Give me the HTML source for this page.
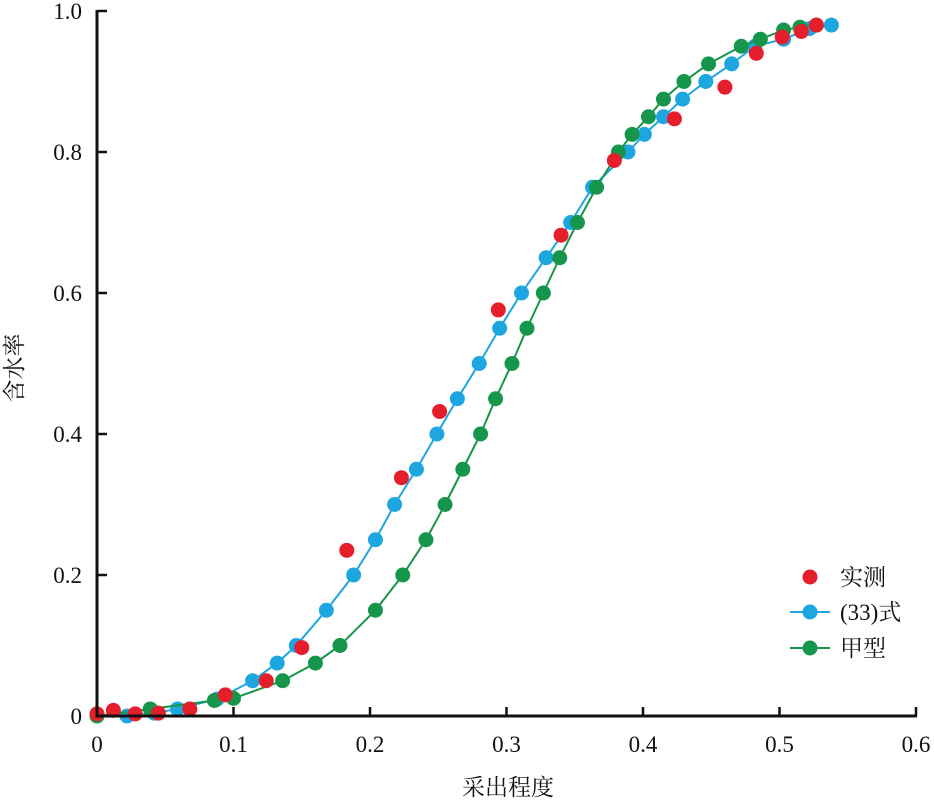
<!DOCTYPE html>
<html><head><meta charset="utf-8"><style>
body{margin:0;background:#fff}
svg text{font-family:"Liberation Serif","Noto Serif CJK SC",serif;font-size:23px;fill:#111}
</style></head><body>
<svg width="934" height="805" id="c"></svg>
<script>
const xTicks=[0,0.1,0.2,0.3,0.4,0.5,0.6];
const xTickLabels=["0","0.1","0.2","0.3","0.4","0.5","0.6"];
const yTicks=[0,0.2,0.4,0.6,0.8,1.0];
const yTickLabels=["0","0.2","0.4","0.6","0.8","1.0"];
const measX=[0,0.012,0.028,0.045,0.068,0.094,0.124,0.15,0.183,0.223,0.251,0.294,0.34,0.379,0.423,0.46,0.483,0.502,0.516,0.527];
const measY=[0.003,0.008,0.003,0.004,0.01,0.03,0.05,0.097,0.235,0.338,0.432,0.576,0.682,0.788,0.847,0.892,0.94,0.963,0.971,0.98];
const eq33X=[0,0.022,0.042,0.059,0.088,0.114,0.132,0.146,0.168,0.188,0.204,0.218,0.234,0.249,0.264,0.28,0.295,0.311,0.329,0.347,0.363,0.389,0.401,0.415,0.429,0.446,0.465,0.482,0.503,0.522,0.538];
const eq33Y=[0,0,0.004,0.01,0.024,0.05,0.075,0.1,0.15,0.2,0.25,0.3,0.35,0.4,0.45,0.5,0.55,0.6,0.65,0.7,0.75,0.8,0.825,0.85,0.875,0.9,0.925,0.95,0.96,0.975,0.98];
const jiaX=[0,0.039,0.086,0.1,0.136,0.16,0.178,0.204,0.224,0.241,0.255,0.268,0.281,0.292,0.304,0.315,0.327,0.339,0.352,0.366,0.382,0.392,0.404,0.415,0.43,0.448,0.472,0.486,0.503,0.515,0.527];
const jiaY=[0,0.01,0.022,0.025,0.05,0.075,0.1,0.15,0.2,0.25,0.3,0.35,0.4,0.45,0.5,0.55,0.6,0.65,0.7,0.75,0.8,0.825,0.85,0.875,0.9,0.925,0.95,0.96,0.973,0.977,0.98];
const X=v=>97+v*1365, Y=v=>716-v*705;
const svg=document.getElementById('c'),NS="http://www.w3.org/2000/svg";
function mk(t,a,p){const e=document.createElementNS(NS,t);for(const k in a)e.setAttribute(k,a[k]);(p||svg).appendChild(e);return e;}
const BLUE="#1ea6e0",GREEN="#16964a",RED="#e41e2b";
function series(xs,ys,col,name,line){
 const g=mk('g',{});
 
 
 if(line){const l=mk('polyline',{points:xs.map((x,i)=>X(x)+','+Y(ys[i])).join(' '),fill:'none',stroke:col,'stroke-width':2},g);
  
  }
 xs.forEach((x,i)=>{const c=mk('circle',{cx:X(x),cy:Y(ys[i]),r:7.5,fill:col},g);
  
  });
}
series(eq33X,eq33Y,BLUE,'series-eq33',true);
series(jiaX,jiaY,GREEN,'series-jia',true);
series(measX,measY,RED,'series-measured',false);
const ax=mk('path',{d:`M97,10 V716 H917`,fill:'none',stroke:'#111','stroke-width':3});


xTicks.forEach((v,i)=>{
 if(i>0){const t=mk('line',{x1:X(v),x2:X(v),y1:716,y2:707,stroke:'#111','stroke-width':2.5});
 
 }
 const tx=mk('text',{x:X(v),y:752,'text-anchor':'middle'});tx.textContent=xTickLabels[i];
 
 
});
yTicks.forEach((v,i)=>{
 if(i>0){const t=mk('line',{x1:97,x2:107,y1:Y(v),y2:Y(v),stroke:'#111','stroke-width':2.5});
 
 }
 const tx=mk('text',{x:82,y:Y(v)+8,'text-anchor':'end'});tx.textContent=yTickLabels[i];
 
 
});
const xt=mk('text',{x:508,y:795,'text-anchor':'middle','font-size':24});xt.textContent='采出程度';


const yt=mk('text',{x:0,y:0,'text-anchor':'middle','font-size':24,transform:'translate(22,368) rotate(-90)'});yt.textContent='含水率';


const lg=mk('g',{});


const items=[['实测',RED,false,577],['(33)式',BLUE,true,612],['甲型',GREEN,true,648]];
items.forEach(it=>{
 const g=mk('g',{},lg);
 
 
 if(it[2])mk('line',{x1:790,x2:830,y1:it[3],y2:it[3],stroke:it[1],'stroke-width':2},g);
 mk('circle',{cx:810,cy:it[3],r:7.5,fill:it[1]},g);
 const t=mk('text',{x:840,y:it[3]+8},g);t.textContent=it[0];
});
</script>
</body></html>
